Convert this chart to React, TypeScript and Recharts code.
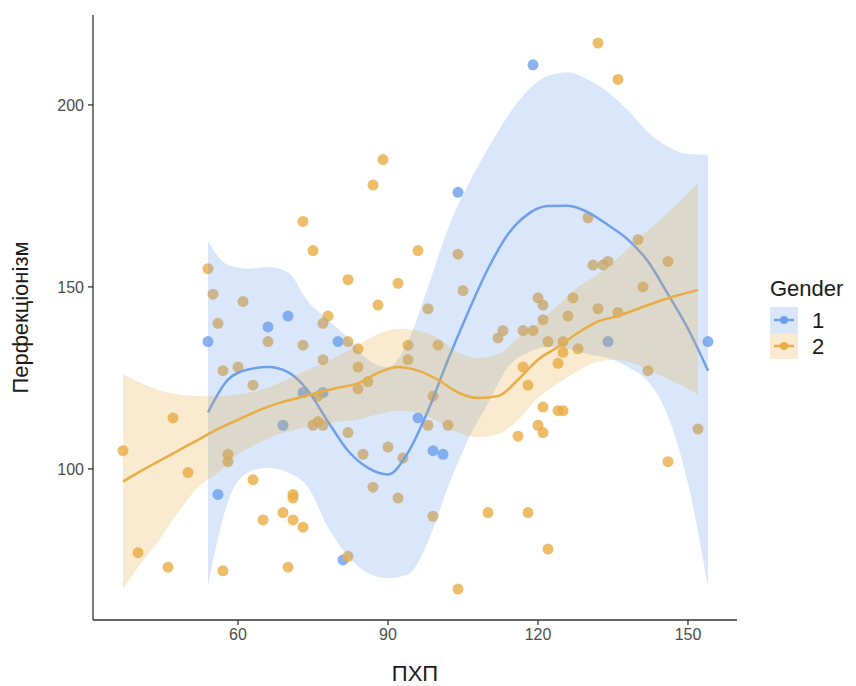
import { Area, ComposedChart, Legend, Scatter, XAxis, YAxis } from 'recharts';

// raw points, Gender 1
const g1X = [54, 56, 66, 69, 70, 73, 77, 80, 81, 96, 99, 101, 104, 119, 134, 154];
const g1Y = [135, 93, 139, 112, 142, 121, 121, 135, 75, 114, 105, 104, 176, 211, 135, 135];

// raw points, Gender 2
const g2X = [
  37, 40, 46, 47, 50, 54, 55, 56, 57, 57, 58, 58, 60, 61, 63, 63, 65, 66, 69, 70, 71, 71, 71, 73, 73, 73,
  75, 75, 76, 76, 77, 77, 77, 78, 82, 82, 82, 82, 84, 84, 84, 85, 86, 87, 87, 88, 89, 90, 92, 92, 93, 94,
  94, 96, 98, 98, 99, 99, 100, 102, 104, 104, 105, 110, 112, 113, 116, 117, 117, 118, 118, 119, 120, 120,
  121, 121, 121, 121, 122, 122, 124, 124, 125, 125, 125, 126, 127, 128, 130, 131, 132, 132, 133, 134, 136,
  136, 140, 141, 142, 146, 146, 152,
];
const g2Y = [
  105, 77, 73, 114, 99, 155, 148, 140, 127, 72, 104, 102, 128, 146, 123, 97, 86, 135, 88, 73, 93, 92, 86, 168, 134, 84,
  160, 112, 113, 120, 140, 130, 112, 142, 152, 135, 110, 76, 133, 128, 122, 104, 124, 178, 95, 145, 185, 106, 151, 92, 103, 134,
  130, 160, 144, 112, 120, 87, 134, 112, 159, 67, 149, 88, 136, 138, 109, 138, 128, 123, 88, 138, 147, 112,
  145, 141, 117, 110, 135, 78, 129, 116, 116, 135, 132, 142, 147, 133, 169, 156, 144, 217, 156, 157, 143,
  207, 163, 150, 127, 157, 102, 111,
];

// loess fit, Gender 1
const s1X = [54, 58, 62, 66, 70, 74, 78, 82, 86, 90, 94, 98, 102, 106, 110, 114, 118, 122, 126, 130, 134, 138, 142, 146, 150, 154];
const s1Fit = [115.5, 124.5, 127.3, 128, 126.6, 121.5, 113, 105, 100.3, 98.5, 104.5, 116, 130, 143, 155, 164.5, 170, 172.2, 172.3, 170.5, 167, 163, 157, 148, 138.5, 127];
const s1Low = [68, 91, 99, 100.3, 99, 95, 84, 76, 71.4, 70, 71, 80, 95, 108, 118, 128, 132, 133.5, 133, 131.5, 130.5, 128, 124, 114.5, 96, 67.6];
const s1High = [162.5, 156, 155, 155.5, 154, 146, 141, 136, 130, 128, 135, 150, 166, 178, 188, 197, 204, 208, 209, 207, 203.5, 198.5, 192.5, 188.5, 186.5, 186.3];

// loess fit, Gender 2
const s2X = [37, 40, 44, 48, 52, 56, 60, 64, 68, 72, 76, 80, 84, 88, 92, 96, 100, 104, 108, 112, 116, 120, 124, 128, 132, 136, 140, 144, 148, 152];
const s2Fit = [96.5, 99, 102, 105, 108, 111, 113.5, 116, 118, 119.5, 121, 122.3, 123.5, 126.4, 128, 127, 124.5, 121, 119.5, 120, 124.5, 130, 133.5, 137.4, 140.5, 142, 144, 146, 147.7, 149.2];
const s2Low = [67, 73, 80, 88, 95, 99, 104, 107, 109.5, 111, 112, 113, 113.5, 115, 116, 115.5, 113, 110, 108.8, 109.5, 113.5, 119.5, 123.5, 127, 129.5, 130, 128.5, 126, 123.5, 120.5];
const s2High = [126, 124, 121.7, 120.5, 120, 120, 120.5, 121.5, 123.5, 126, 128.5, 131, 134, 137, 138.5, 138, 136, 132, 130.5, 131.5, 136, 140, 145, 150, 153.5, 158, 163, 168, 173, 178.6];

const xTicks = [60, 90, 120, 150];
const yTicks = [100, 150, 200];

const BLUE = '#6d9feb';
const ORANGE = '#e9ad45';
const FONT = '"Liberation Sans", Arial, Helvetica, sans-serif';

const pts1 = g1X.map((x, i) => ({ x, y: g1Y[i] }));
const pts2 = g2X.map((x, i) => ({ x, y: g2Y[i] }));
const fit1 = s1X.map((x, i) => ({ x, fit: s1Fit[i], band: [s1Low[i], s1High[i]] }));
const fit2 = s2X.map((x, i) => ({ x, fit: s2Fit[i], band: [s2Low[i], s2High[i]] }));

const dot = (color: string) => (props: any) => (
  <circle cx={props.cx} cy={props.cy} r={5.5} fill={color} fillOpacity={0.8} />
);

function GenderLegend() {
  return (
    <svg width={92} height={100} style={{ fontFamily: FONT }}>
      <text x={2} y={26} fontSize={22} fill="#1a1a1a">Gender</text>
      <rect x={2} y={37} width={28} height={26} fill={BLUE} fillOpacity={0.25} />
      <line x1={6} x2={26} y1={50} y2={50} stroke={BLUE} strokeWidth={2.5} />
      <circle cx={16} cy={50} r={4} fill={BLUE} />
      <text x={44} y={58} fontSize={22} fill="#1a1a1a">1</text>
      <rect x={2} y={63} width={28} height={26} fill={ORANGE} fillOpacity={0.25} />
      <line x1={6} x2={26} y1={76} y2={76} stroke={ORANGE} strokeWidth={2.5} />
      <circle cx={16} cy={76} r={4} fill={ORANGE} />
      <text x={44} y={84} fontSize={22} fill="#1a1a1a">2</text>
    </svg>
  );
}

export default function App() {
  const tickStyle = { fontSize: 16, fill: '#4d4d4d', fontFamily: FONT };
  // zIndex keeps the points under the smooth layers, as in the ggplot original
  const under: any = { zIndex: 50 };
  return (
    <ComposedChart width={848} height={678} margin={{ top: 7, right: 119, left: 25, bottom: 0 }}>
      <XAxis
        type="number"
        dataKey="x"
        domain={[31, 159.8]}
        allowDataOverflow
        ticks={xTicks}
        tick={tickStyle}
        tickSize={5}
        tickMargin={4}
        height={66}
        stroke="#333"
        strokeWidth={1.3}
        label={{
          content: (p: any) => (
            <text x={p.viewBox.x + p.viewBox.width / 2} y={673} textAnchor="middle" fontSize={22} fill="#1a1a1a" fontFamily={FONT}>
              ПХП
            </text>
          ),
        }}
      />
      <YAxis
        type="number"
        domain={[58.5, 224.7]}
        allowDataOverflow
        ticks={yTicks}
        tick={tickStyle}
        tickSize={5}
        tickMargin={4}
        width={60}
        stroke="#333"
        strokeWidth={1.3}
        label={{
          content: (p: any) => {
            const cy = p.viewBox.y + p.viewBox.height / 2;
            return (
              <text x={20} y={cy} transform={`rotate(-90 20 ${cy})`} textAnchor="middle" fontSize={22} fill="#1a1a1a" fontFamily={FONT}>
                Перфекціонізм
              </text>
            );
          },
        }}
      />
      <Scatter {...under} data={pts1} dataKey="y" shape={dot(BLUE)} isAnimationActive={false} />
      <Scatter {...under} data={pts2} dataKey="y" shape={dot(ORANGE)} isAnimationActive={false} />
      <Area data={fit1} dataKey="band" type="monotone" stroke="none" fill={BLUE} fillOpacity={0.25} activeDot={false} isAnimationActive={false} />
      <Area data={fit1} dataKey="fit" type="monotone" stroke={BLUE} strokeWidth={2.5} fill="none" activeDot={false} isAnimationActive={false} />
      <Area data={fit2} dataKey="band" type="monotone" stroke="none" fill={ORANGE} fillOpacity={0.25} activeDot={false} isAnimationActive={false} />
      <Area data={fit2} dataKey="fit" type="monotone" stroke={ORANGE} strokeWidth={2.5} fill="none" activeDot={false} isAnimationActive={false} />
      <Legend
        layout="horizontal"
        align="center"
        verticalAlign="middle"
        wrapperStyle={{ left: 760, top: 262, width: 92 }}
        content={() => <GenderLegend />}
      />
    </ComposedChart>
  );
}
